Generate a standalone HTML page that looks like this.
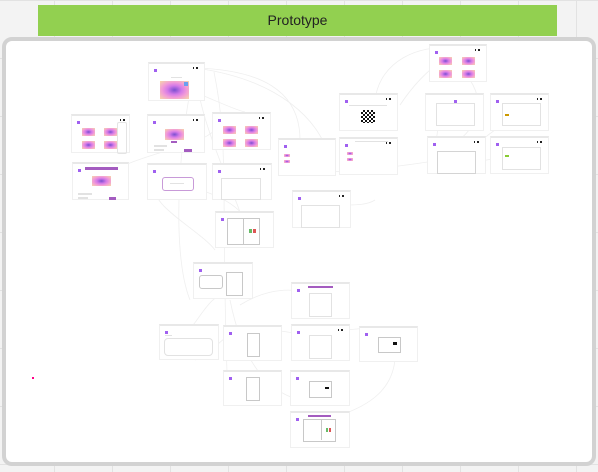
<!DOCTYPE html>
<html><head><meta charset="utf-8"><style>
body{margin:0;width:598px;height:472px;overflow:hidden;background:#f3f3f3;font-family:"Liberation Sans",sans-serif;position:relative}
.grid{position:absolute;inset:0;background-image:linear-gradient(90deg,#e2e2e2 1px,transparent 1px),linear-gradient(#e2e2e2 1px,transparent 1px);background-size:58px 58px;background-position:-4px 0}
.hdr{position:absolute;left:38px;top:5px;width:519px;height:31px;background:#92d050;font-size:14px;color:#222;text-align:center;line-height:31px}
.box{position:absolute;left:2px;top:37px;width:586px;height:421px;border:4px solid #d2d2d2;border-radius:10px;background:#fff}
.c{position:absolute;background:#fff;border:1px solid #f0f0f0;border-top:2px solid #e8e8e8;box-sizing:border-box}
.d{position:absolute;left:5px;top:5px;width:3px;height:3px;background:#a060f0}
.k{position:absolute;right:6px;top:3px;width:5px;height:2px;border-left:1px solid #222;border-right:2px solid #222;box-sizing:border-box}
.t{position:absolute;background:radial-gradient(ellipse,#7a4fd0 0%,#d47ae8 35%,#f29ad8 60%,#f6d8a8 100%)}
.l{position:absolute;height:2px;background:#e2e2e2}
.f{position:absolute;border:1px solid #c8c8c8;background:#fff}
.p{position:absolute;background:#a45cc0;height:3px}
svg{position:absolute;left:0;top:0}
</style></head><body>
<div class="grid"></div>
<div class="hdr">Prototype</div>
<div class="box"></div>
<svg width="598" height="472" fill="none" stroke="#efefef" stroke-width="0.8">
<path d="M196 68 C260 70 300 90 300 140"/><path d="M196 68 C280 80 320 120 330 160"/>
<path d="M194 92 C210 98 235 110 245 112"/><path d="M195 68 C180 130 170 250 190 300"/>
<path d="M195 68 C200 130 240 200 245 230"/><path d="M214 72 C230 150 220 200 228 400"/>
<path d="M125 165 C160 150 200 145 215 130"/><path d="M160 185 C140 200 200 230 215 250"/>
<path d="M190 187 C240 200 250 220 255 240"/><path d="M195 360 C220 350 230 320 260 330 C300 330 320 340 340 355"/>
<path d="M170 345 C200 330 200 300 230 290"/><path d="M230 300 C240 350 260 390 300 400"/>
<path d="M340 330 C370 330 380 320 395 340"/><path d="M395 345 C400 400 350 410 335 418"/>
<path d="M400 105 C430 60 460 50 470 48"/><path d="M375 100 C380 60 420 45 450 48"/>
<path d="M440 120 C430 160 440 170 460 170"/><path d="M470 80 C490 110 470 140 440 150"/>
<path d="M460 160 C480 140 500 125 512 120"/><path d="M460 165 C490 160 510 155 515 152"/>
<path d="M330 172 C370 170 410 165 440 160"/><path d="M300 210 C330 200 360 210 375 200"/>
<path d="M240 305 C280 280 320 290 330 310"/>
</svg>
<div class="c" style="left:148px;top:62px;width:57px;height:39px"><div class="d"></div><div class="k"></div><div class="l" style="left:22px;top:13px;width:11px;height:1px"></div><div class="t" style="left:11px;top:17px;width:29px;height:18px"></div><div style="position:absolute;left:35px;top:18px;width:4px;height:4px;background:#6aa0f0"></div></div>
<div class="c" style="left:71px;top:114px;width:59px;height:39px"><div class="d"></div><div class="k" style="right:4px"></div><div class="t" style="left:10px;top:12px;width:13px;height:8px"></div><div class="t" style="left:32px;top:12px;width:13px;height:8px"></div><div class="t" style="left:10px;top:25px;width:13px;height:8px"></div><div class="t" style="left:32px;top:25px;width:13px;height:8px"></div><div style="position:absolute;right:2px;top:6px;width:8px;height:30px;border:1px solid #e4e4e4;border-radius:2px"></div></div>
<div class="c" style="left:147px;top:114px;width:58px;height:39px"><div class="d"></div><div class="k"></div><div class="t" style="left:17px;top:13px;width:19px;height:11px"></div><div class="p" style="left:23px;top:25px;width:6px;height:2px"></div><div class="l" style="left:6px;top:29px;width:13px"></div><div class="l" style="left:6px;top:33px;width:10px"></div><div class="p" style="left:36px;top:33px;width:8px"></div></div>
<div class="c" style="left:212px;top:112px;width:59px;height:38px"><div class="d"></div><div class="k"></div><div class="t" style="left:10px;top:12px;width:13px;height:8px"></div><div class="t" style="left:32px;top:12px;width:13px;height:8px"></div><div class="t" style="left:10px;top:25px;width:13px;height:8px"></div><div class="t" style="left:32px;top:25px;width:13px;height:8px"></div></div>
<div class="c" style="left:72px;top:162px;width:57px;height:38px"><div class="d"></div><div class="p" style="left:12px;top:3px;width:33px"></div><div class="t" style="left:19px;top:12px;width:19px;height:10px"></div><div class="l" style="left:5px;top:29px;width:14px"></div><div class="l" style="left:5px;top:33px;width:10px"></div><div class="p" style="left:36px;top:33px;width:7px"></div></div>
<div class="c" style="left:147px;top:163px;width:60px;height:37px"><div class="d"></div><div style="position:absolute;left:14px;top:12px;width:30px;height:12px;border:1px solid #c89ad8;border-radius:3px"></div><div class="l" style="left:22px;top:18px;width:14px;height:1px"></div></div>
<div class="c" style="left:212px;top:163px;width:60px;height:37px"><div class="d"></div><div class="k"></div><div class="f" style="left:8px;top:13px;width:38px;height:20px;border-color:#e2e2e2"></div></div>
<div class="c" style="left:278px;top:138px;width:58px;height:38px"><div class="d"></div><div class="t" style="left:5px;top:14px;width:6px;height:3px"></div><div class="t" style="left:5px;top:20px;width:6px;height:3px"></div></div>
<div class="c" style="left:339px;top:93px;width:59px;height:38px"><div class="d"></div><div class="k"></div><div class="l" style="left:9px;top:10px;width:38px;height:1px"></div><div style="position:absolute;left:21px;top:15px;width:14px;height:13px;background:repeating-conic-gradient(#111 0 25%,#fff 0 50%) 0 0/4px 4px"></div></div>
<div class="c" style="left:339px;top:137px;width:59px;height:38px"><div class="d"></div><div class="k"></div><div class="l" style="left:15px;top:2px;width:33px;height:1px"></div><div class="t" style="left:7px;top:13px;width:6px;height:3px"></div><div class="t" style="left:7px;top:19px;width:6px;height:3px"></div></div>
<div class="c" style="left:429px;top:44px;width:58px;height:38px"><div class="d"></div><div class="k"></div><div class="t" style="left:9px;top:11px;width:13px;height:8px"></div><div class="t" style="left:32px;top:11px;width:13px;height:8px"></div><div class="t" style="left:9px;top:24px;width:13px;height:8px"></div><div class="t" style="left:32px;top:24px;width:13px;height:8px"></div></div>
<div class="c" style="left:425px;top:93px;width:59px;height:38px"><div class="d" style="left:28px"></div><div class="f" style="left:10px;top:8px;width:37px;height:21px;border-color:#e2e2e2"></div></div>
<div class="c" style="left:490px;top:93px;width:59px;height:38px"><div class="d"></div><div class="k"></div><div class="f" style="left:11px;top:8px;width:37px;height:21px;border-color:#e2e2e2"></div><div style="position:absolute;left:14px;top:19px;width:4px;height:2px;background:#c90"></div></div>
<div class="c" style="left:427px;top:136px;width:59px;height:38px"><div class="d"></div><div class="k"></div><div class="f" style="left:9px;top:13px;width:37px;height:21px;border-color:#d4d4d4"></div></div>
<div class="c" style="left:490px;top:136px;width:59px;height:38px"><div class="d"></div><div class="k"></div><div class="f" style="left:11px;top:9px;width:37px;height:21px;border-color:#e2e2e2"></div><div style="position:absolute;left:14px;top:17px;width:4px;height:2px;background:#8c3"></div></div>
<div class="c" style="left:292px;top:190px;width:59px;height:38px"><div class="d"></div><div class="k"></div><div class="f" style="left:8px;top:13px;width:37px;height:21px;border-color:#e2e2e2"></div></div>
<div class="c" style="left:215px;top:211px;width:59px;height:37px"><div class="d"></div><div class="f" style="left:11px;top:5px;width:31px;height:25px"></div><div style="position:absolute;left:27px;top:5px;width:1px;height:26px;background:#c8c8c8"></div><div style="position:absolute;left:33px;top:16px;width:3px;height:4px;background:#6b6"></div><div style="position:absolute;left:37px;top:16px;width:3px;height:4px;background:#d55"></div></div>
<div class="c" style="left:193px;top:262px;width:60px;height:37px"><div class="d"></div><div style="position:absolute;left:5px;top:11px;width:22px;height:12px;border:1px solid #c8c8c8;border-radius:3px"></div><div class="f" style="left:32px;top:8px;width:15px;height:22px"></div></div>
<div class="c" style="left:291px;top:282px;width:59px;height:37px"><div class="d"></div><div class="p" style="left:16px;top:2px;width:25px;height:2px"></div><div class="f" style="left:17px;top:9px;width:21px;height:22px;border-color:#e2e2e2"></div></div>
<div class="c" style="left:159px;top:324px;width:60px;height:36px"><div class="d"></div><div class="l" style="left:5px;top:9px;width:7px;height:1px"></div><div style="position:absolute;left:4px;top:12px;width:47px;height:16px;border:1px solid #e2e2e2;border-radius:4px"></div></div>
<div class="c" style="left:223px;top:325px;width:59px;height:36px"><div class="d"></div><div class="f" style="left:23px;top:6px;width:11px;height:22px"></div></div>
<div class="c" style="left:291px;top:324px;width:59px;height:37px"><div class="d"></div><div class="k"></div><div class="f" style="left:17px;top:9px;width:21px;height:22px;border-color:#e2e2e2"></div></div>
<div class="c" style="left:359px;top:326px;width:59px;height:36px"><div class="d"></div><div class="f" style="left:18px;top:9px;width:21px;height:14px"></div><div style="position:absolute;left:33px;top:14px;width:4px;height:3px;background:#111"></div></div>
<div class="c" style="left:223px;top:370px;width:59px;height:36px"><div class="d"></div><div class="f" style="left:22px;top:5px;width:12px;height:22px"></div></div>
<div class="c" style="left:290px;top:370px;width:60px;height:36px"><div class="d"></div><div class="f" style="left:18px;top:9px;width:21px;height:15px"></div><div style="position:absolute;left:34px;top:15px;width:4px;height:2px;background:#111"></div></div>
<div class="c" style="left:290px;top:411px;width:60px;height:37px"><div class="d"></div><div class="p" style="left:17px;top:2px;width:23px;height:2px"></div><div class="f" style="left:12px;top:6px;width:31px;height:21px"></div><div style="position:absolute;left:30px;top:7px;width:1px;height:20px;background:#c8c8c8"></div><div style="position:absolute;left:35px;top:15px;width:2px;height:4px;background:#6b6"></div><div style="position:absolute;left:38px;top:15px;width:2px;height:4px;background:#d55"></div></div>
<div style="position:absolute;left:32px;top:377px;width:2px;height:2px;background:#f08"></div>
</body></html>
